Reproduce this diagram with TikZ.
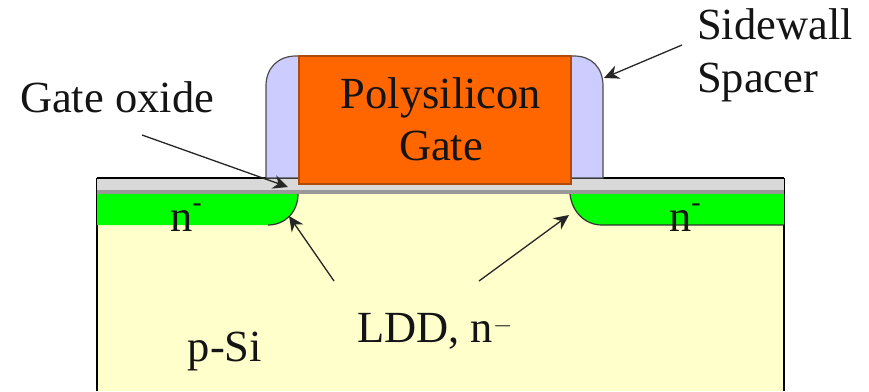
\documentclass[tikz,border=0pt]{standalone}
\usepackage{fontspec}
\setmainfont{Liberation Serif}
\usepackage{tikz}
\usetikzlibrary{arrows.meta}
\definecolor{substrate}{HTML}{FFFFCC}
\definecolor{spacer}{HTML}{CCCCFF}
\definecolor{poly}{HTML}{FF6600}
\definecolor{polyedge}{HTML}{B04A08}
\definecolor{oxide}{HTML}{D9D9D9}
\definecolor{ndope}{HTML}{00FF00}
\tikzstyle{pointer} = [line width=1.3pt,-{Stealth[length=15pt,width=14pt]},black!85]
\tikzstyle{label} = [font=\fontsize{44.5}{50}\selectfont,inner sep=0pt,text=black!92,anchor=base]
\tikzstyle{outline} = [line width=1.6pt,black]
\newcommand{\nhyphen}{n\raisebox{20pt}{\fontsize{28}{28}\selectfont -}}

\begin{document}
\begin{tikzpicture}[x=1pt,y=-1pt]
  \useasboundingbox (0,0) rectangle (869,391);
  \fill[white] (0,0) rectangle (869,391);
  \fill[substrate] (97,178) rectangle (784,391);
  \draw[outline] (97,391) -- (97,178);
  \draw[outline] (784,391) -- (784,178);
  % doped regions
  \fill[ndope] (97,194) -- (298,194) .. controls (298,212) and (285,225) .. (268,225) -- (97,225) -- cycle;
  \fill[ndope] (570,194) -- (784,194) -- (784,225) -- (602,225) .. controls (585,225) and (572,212) .. (570,194) -- cycle;
  \draw[line width=1.2pt,black!80] (298,194) .. controls (298,212) and (285,225) .. (268,225);
  \draw[line width=1.2pt,black!80] (570,194) .. controls (572,212) and (585,225) .. (602,225) -- (784,225);
  % oxide
  \fill[oxide] (97,178) rectangle (784,190);
  \fill[black!40] (97,190) rectangle (784,194);
  \draw[outline] (97,178) -- (784,178);
  % spacer and gate
  \draw[line width=1.2pt,draw=black!70,fill=spacer] (266,178) -- (266,86) .. controls (266,68) and (278,56) .. (296,56) -- (574,56) .. controls (592,56) and (603,68) .. (603,86) -- (603,178) -- cycle;
  \draw[line width=1.2pt,draw=polyedge,fill=poly] (299,56) rectangle (571,184);
  \node[label] (polytext) at (441,108) {Polysilicon};
  \node[label] (gatetext) at (441,160) {Gate};
  \node[label] (oxidetext) at (117,112) {Gate oxide};
  \node[label,anchor=base west] (sidewalltext) at (697,39) {Sidewall};
  \node[label,anchor=base west] (spacertext) at (697,92) {Spacer};
  \node[label] (substext) at (225,361) {p-Si};
  \node[label] (lddtext) at (435,342) {LDD, n$^-$};
  \node[label] (nleft) at (186,231) {\nhyphen};
  \node[label] (nright) at (685,231) {\nhyphen};
  \coordinate (oxidefrom) at (142,135);
  \coordinate (oxideto) at (288,187);
  \coordinate (sidefrom) at (682,45);
  \coordinate (sideto) at (604,78);
  \coordinate (lddleftfrom) at (334,281);
  \coordinate (lddleftto) at (289,216);
  \coordinate (lddrightfrom) at (479,281);
  \coordinate (lddrightto) at (569,215);
  \draw[pointer] (oxidefrom) -- (oxideto);
  \draw[pointer] (sidefrom) -- (sideto);
  \draw[pointer] (lddleftfrom) -- (lddleftto);
  \draw[pointer] (lddrightfrom) -- (lddrightto);
\end{tikzpicture}
\end{document}
